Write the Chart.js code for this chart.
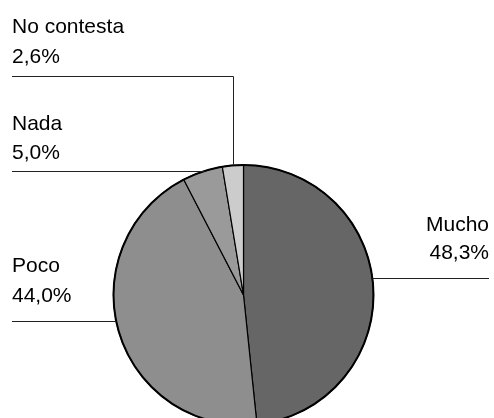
<!DOCTYPE html>
<html>
<head>
<meta charset="utf-8">
<script src="https://cdn.jsdelivr.net/npm/chart.js@4/dist/chart.umd.min.js"></script>
<style>
  html, body { margin:0; padding:0; background:#fff; overflow:hidden; }
  #wrap { position:relative; width:494px; height:428px; }
</style>
</head>
<body>
<div id="wrap"><canvas id="ch"></canvas></div>
<script>
// Datos del gráfico
const categorias = ['Mucho', 'Poco', 'Nada', 'No contesta'];
const porcentajes = [48.3, 44.0, 5.0, 2.6];
const colores = ['#666666', '#8e8e8e', '#9a9a9a', '#cccccc'];

// Posición de cada rótulo: lado, x del texto, líneas base, y de la línea guía
const rotulos = [
  {lado:'der', x:489, base:[231, 259], lineaY:278},
  {lado:'izq', x:12,  base:[272, 302], lineaY:321},
  {lado:'izq', x:12,  base:[130, 159], lineaY:171},
  {lado:'izq', x:12,  base:[33, 63],   lineaY:76, codo:true}
];

const fmt = v => v.toFixed(1).replace('.', ',') + '%';

const guias = {
  id:'guias',
  afterDatasetsDraw(chart){
    const ctx = chart.ctx;
    const arcs = chart.getDatasetMeta(0).data;
    const cx = arcs[0].x, cy = arcs[0].y, r = arcs[0].outerRadius;

    // contorno exterior más grueso
    ctx.save();
    ctx.beginPath();
    ctx.arc(cx, cy, r, 0, Math.PI*2);
    ctx.lineWidth = 2;
    ctx.strokeStyle = '#000';
    ctx.stroke();

    ctx.font = '21px "Liberation Sans", Arial, sans-serif';
    ctx.fillStyle = '#000';
    ctx.textBaseline = 'alphabetic';
    ctx.strokeStyle = '#222';
    ctx.lineWidth = 1;

    arcs.forEach((a, i) => {
      const ro = rotulos[i];
      ctx.textAlign = ro.lado === 'der' ? 'right' : 'left';
      ctx.fillText(categorias[i], ro.x, ro.base[0]);
      ctx.fillText(fmt(porcentajes[i]), ro.x, ro.base[1]);

      ctx.beginPath();
      if (ro.codo) {
        const m = (a.startAngle + a.endAngle) / 2;
        const ex = cx + r*Math.cos(m), ey = cy + r*Math.sin(m);
        const px = Math.round(ex) + 0.5;
        ctx.moveTo(ro.x, ro.lineaY + 0.5);
        ctx.lineTo(px, ro.lineaY + 0.5);
        ctx.lineTo(px, ey);
      } else {
        const dy = ro.lineaY - cy;
        const dx = Math.sqrt(Math.max(r*r - dy*dy, 0));
        const ex = ro.lado === 'der' ? cx + dx : cx - dx;
        ctx.moveTo(ro.x, ro.lineaY + 0.5);
        ctx.lineTo(ex, ro.lineaY + 0.5);
      }
      ctx.stroke();
    });
    ctx.restore();
  }
};

new Chart(document.getElementById('ch'), {
  type:'pie',
  data:{
    labels: categorias,
    datasets:[{
      data: porcentajes,
      backgroundColor: colores,
      borderColor:'#000',
      borderWidth:1.2
    }]
  },
  options:{
    responsive:true,
    maintainAspectRatio:false,
    animation:false,
    radius:130,
    layout:{padding:{left:112, right:119, top:163, bottom:1}},
    plugins:{legend:{display:false}, tooltip:{enabled:false}}
  },
  plugins:[guias]
});
</script>
</body>
</html>
